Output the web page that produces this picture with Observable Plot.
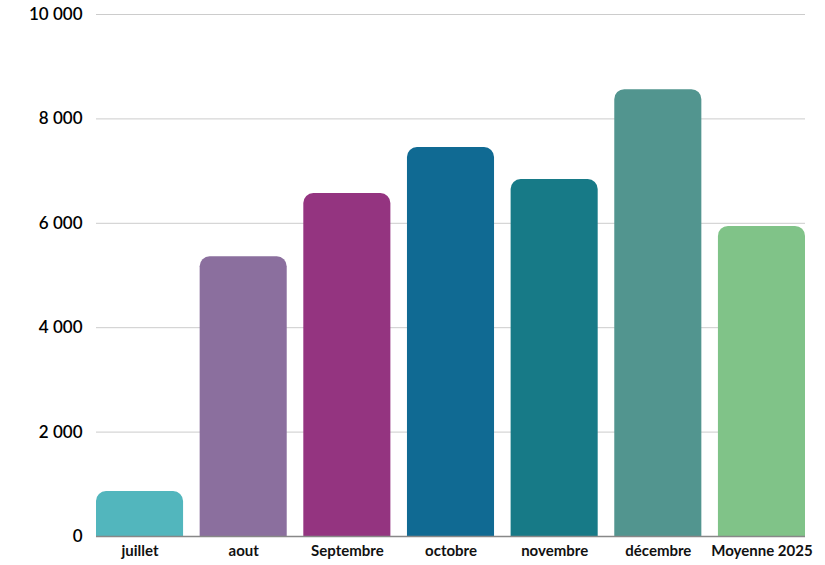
<!DOCTYPE html>
<html><head><meta charset="utf-8">
<script src="https://cdn.jsdelivr.net/npm/d3@7"></script>
<script src="https://cdn.jsdelivr.net/npm/@observablehq/plot@0.6"></script>
<style>
body{margin:0;background:#fff;}
#chart{width:825px;height:565px;}
</style></head>
<body><div id="chart"></div>
<script>
const months = ["juillet","aout","Septembre","octobre","novembre","décembre","Moyenne 2025"];
const values = [860, 5360, 6570, 7450, 6840, 8560, 5940];
const colors = ["#52b6bd","#8b6f9e","#943480","#106a93","#177a87","#52958f","#80c388"];
const yTicks = [0, 2000, 4000, 6000, 8000, 10000];

const data = months.map((m, i) => ({month: m, value: values[i], color: colors[i]}));
const fmt = v => d3.format(",")(v).replace(/,/g, "\u202F");

const chart = Plot.plot({
  width: 825,
  height: 565,
  marginLeft: 96,
  marginRight: 20,
  marginTop: 14,
  marginBottom: 29,
  style: {fontFamily: "Lato, sans-serif", background: "#fff"},
  x: {domain: months, paddingInner: 0.16, paddingOuter: 0, round: false, label: null},
  y: {domain: [0, 10000], label: null},
  marks: [
    Plot.ruleY(yTicks.filter(t => t > 0), {stroke: "#cccccc", strokeWidth: 1}),
    Plot.barY(data, {x: "month", y: "value", fill: "color", ry1: 10}),
    Plot.ruleY([0], {stroke: "#888888", strokeWidth: 1.5}),
    Plot.axisY({ticks: yTicks, tickSize: 0, tickPadding: 14, tickFormat: fmt,
      fontSize: 17, fontWeight: "600", fill: "#000", label: null}),
    Plot.axisX({tickSize: 0, tickPadding: 9, fontSize: 15, fontWeight: "700",
      fill: "#111", label: null})
  ]
});
document.getElementById("chart").appendChild(chart);
</script></body></html>
